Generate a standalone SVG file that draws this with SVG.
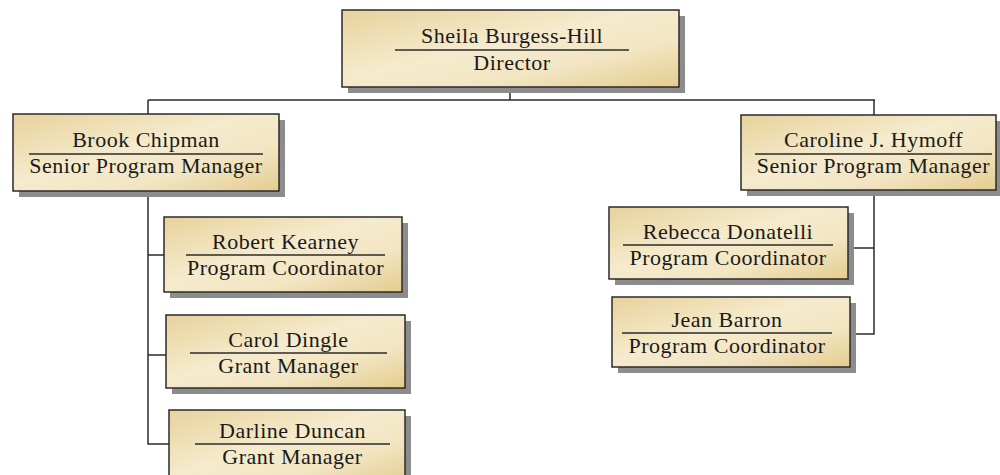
<svg xmlns="http://www.w3.org/2000/svg" width="1000" height="475" viewBox="0 0 1000 475">
<defs>
<linearGradient id="bg" x1="0" y1="0" x2="1" y2="1">
<stop offset="0" stop-color="#e8d29c"/>
<stop offset="0.45" stop-color="#f5ebcd"/>
<stop offset="0.7" stop-color="#f2e5c2"/>
<stop offset="1" stop-color="#e4cc8e"/>
</linearGradient>
<style>
.sh{fill:#8c8c8c}
.bx{fill:url(#bg);stroke:#2b2b2b;stroke-width:1.5}
.ul{stroke:#2b2b2b;stroke-width:1.3}
.t{font-family:"Liberation Serif","Times New Roman",serif;font-size:22px;letter-spacing:0.5px;fill:#1a1a1a;text-anchor:middle}
.cn{fill:none;stroke:#2b2b2b;stroke-width:1.5}
</style>
</defs>
<rect width="1000" height="475" fill="#ffffff"/>
<g id="connectors">
<path class="cn" d="M510 87V100M148 100H875M148 100V114M874 100V115"/>
<path class="cn" d="M148 191V444H169M148 255H164M148 355H166"/>
<path class="cn" d="M874 190V334H850M874 248H848"/>
</g>
<g id="director">
<rect class="sh" x="348" y="16" width="337" height="77"/>
<rect class="bx" x="342" y="10" width="337" height="77"/>
<line class="ul" x1="395" y1="50" x2="629" y2="50"/>
<text class="t" x="512" y="43">Sheila Burgess-Hill</text>
<text class="t" x="512" y="70">Director</text>
</g>
<g id="brook">
<rect class="sh" x="19" y="120" width="266" height="77"/>
<rect class="bx" x="13" y="114" width="266" height="77"/>
<line class="ul" x1="29" y1="154" x2="263" y2="154"/>
<text class="t" x="146" y="147">Brook Chipman</text>
<text class="t" x="146" y="173">Senior Program Manager</text>
</g>
<g id="caroline">
<rect class="sh" x="747" y="121" width="255" height="75"/>
<rect class="bx" x="741" y="115" width="255" height="75"/>
<line class="ul" x1="755" y1="154" x2="992" y2="154"/>
<text class="t" x="873.5" y="147">Caroline J. Hymoff</text>
<text class="t" x="873.5" y="173">Senior Program Manager</text>
</g>
<g id="robert">
<rect class="sh" x="170" y="223" width="238" height="75"/>
<rect class="bx" x="164" y="217" width="238" height="75"/>
<line class="ul" x1="186" y1="255" x2="385" y2="255"/>
<text class="t" x="285.5" y="249">Robert Kearney</text>
<text class="t" x="285.5" y="275">Program Coordinator</text>
</g>
<g id="carol">
<rect class="sh" x="172" y="321" width="239" height="73"/>
<rect class="bx" x="166" y="315" width="239" height="73"/>
<line class="ul" x1="190" y1="353" x2="387" y2="353"/>
<text class="t" x="288.5" y="347">Carol Dingle</text>
<text class="t" x="288.5" y="373">Grant Manager</text>
</g>
<g id="darline">
<rect class="sh" x="175" y="416" width="236" height="75"/>
<rect class="bx" x="169" y="410" width="236" height="75"/>
<line class="ul" x1="195" y1="444" x2="390" y2="444"/>
<text class="t" x="292.5" y="438">Darline Duncan</text>
<text class="t" x="292.5" y="464">Grant Manager</text>
</g>
<g id="rebecca">
<rect class="sh" x="615" y="213" width="239" height="72"/>
<rect class="bx" x="609" y="207" width="239" height="72"/>
<line class="ul" x1="623" y1="245" x2="833" y2="245"/>
<text class="t" x="728" y="239">Rebecca Donatelli</text>
<text class="t" x="728" y="265">Program Coordinator</text>
</g>
<g id="jean">
<rect class="sh" x="618" y="303" width="238" height="70"/>
<rect class="bx" x="612" y="297" width="238" height="70"/>
<line class="ul" x1="622" y1="333" x2="832" y2="333"/>
<text class="t" x="727" y="327">Jean Barron</text>
<text class="t" x="727" y="353">Program Coordinator</text>
</g>
</svg>
